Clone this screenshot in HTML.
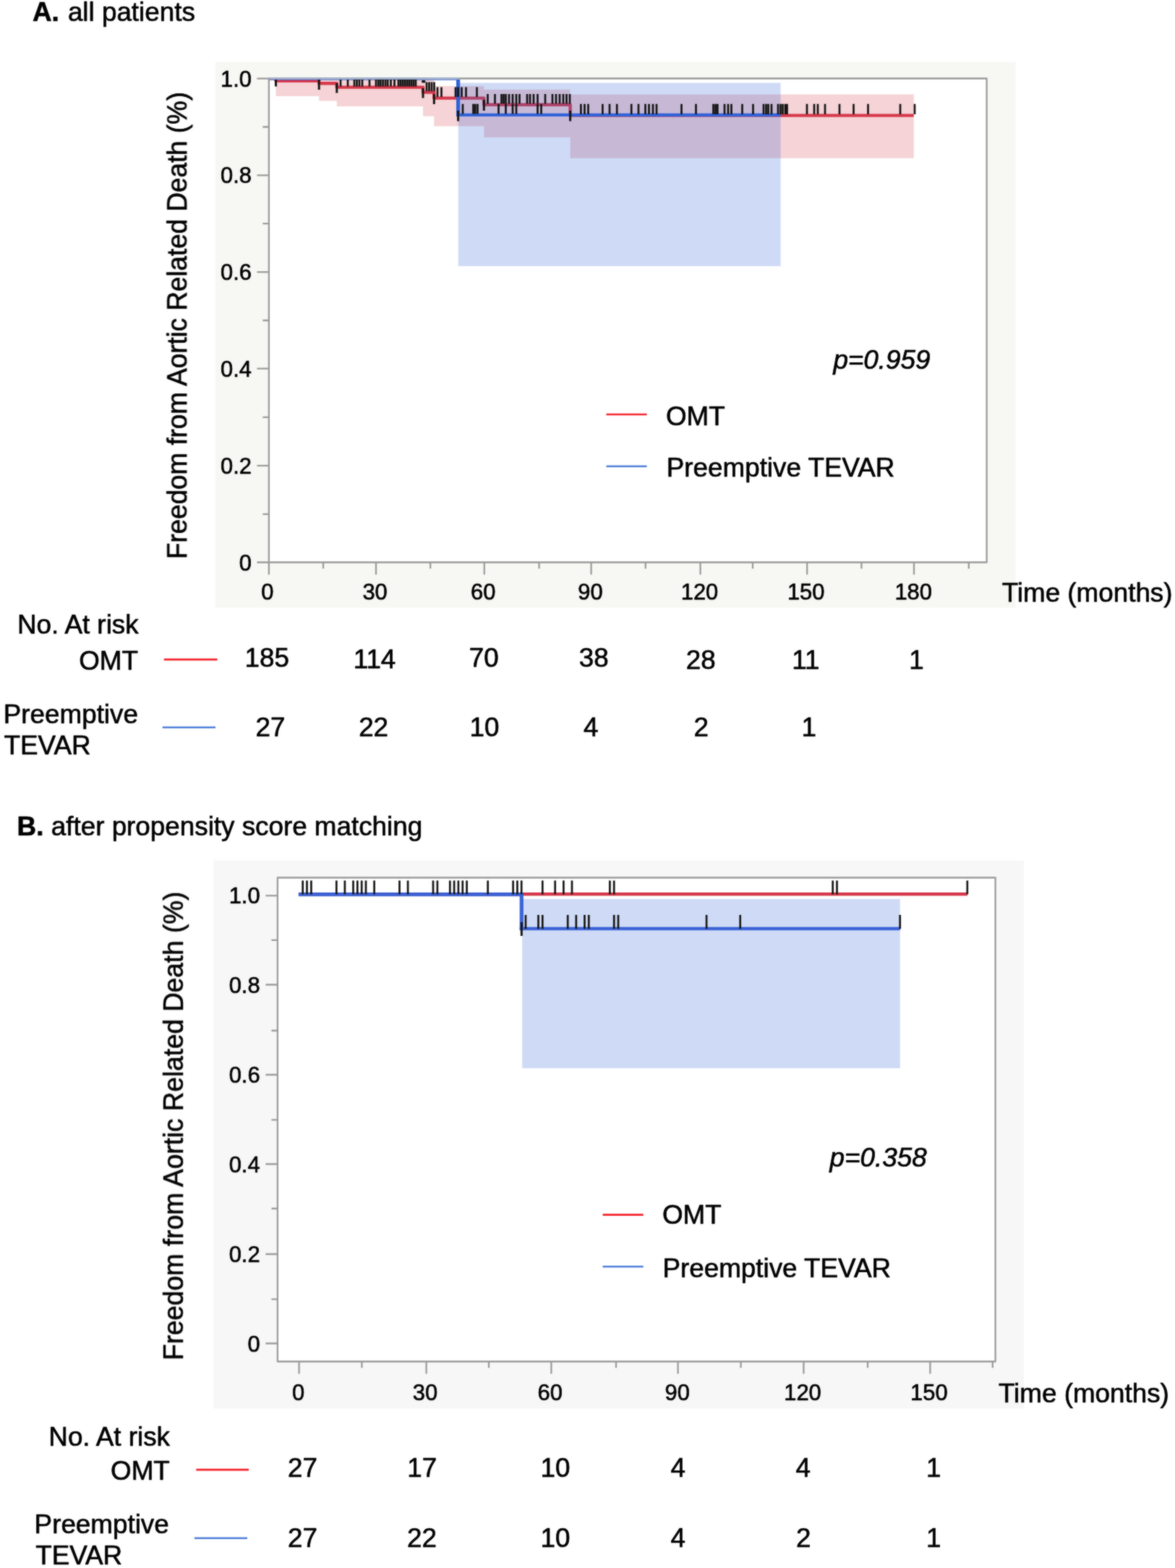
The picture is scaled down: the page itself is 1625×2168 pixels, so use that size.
<!DOCTYPE html>
<html lang="en">
<head>
<meta charset="utf-8">
<title>Freedom from Aortic Related Death</title>
<style>
html,body{margin:0;padding:0;background:#fff;}
body{width:1625px;height:2168px;overflow:hidden;}
svg{display:block;}
text{font-family:"Liberation Sans", sans-serif;}
</style>
</head>
<body>
<svg role="img" aria-label="Kaplan-Meier curves: freedom from aortic related death" width="1625" height="2168" viewBox="0 0 1625 2168" font-family='"Liberation Sans", sans-serif' fill="#000" stroke-linejoin="round">
<rect width="1625" height="2168" fill="#fff"/>
<filter id="soft" x="0" y="0" width="1625" height="2168" filterUnits="userSpaceOnUse" color-interpolation-filters="sRGB"><feGaussianBlur stdDeviation="0.8" result="b"/><feComposite in="SourceGraphic" in2="b" operator="arithmetic" k1="0" k2="0.45" k3="0.55" k4="0"/></filter>
<g filter="url(#soft)">
<g id="panelA">
<rect x="297.8" y="85.4" width="1106.7" height="755.0" fill="#f7f8f3"/>
<rect x="371.9" y="108.5" width="992.6999999999999" height="669.0" fill="#fff"/>
<clipPath id="clipA"><rect x="373" y="110" width="990.5" height="666.4"/></clipPath>
<g clip-path="url(#clipA)">
<path d="M381.5 108.5H441.2V133.0H381.5ZM441.2 108.5H465.8V139.4H441.2ZM465.8 108.5H585.0V147.0H465.8ZM585.0 108.5H600.3V160.8H585.0ZM600.3 119.0H669.3V174.4H600.3ZM669.3 123.8H788.6V189.9H669.3ZM788.6 130.6H1263.7V218.7H788.6Z" fill="#f5d3d6"/>
<path d="M371.9 108.6H381.5V111.8H441.2V115.2H465.8V120.6H585.0V127.6H600.3V135.6H669.3V144.8H788.6V159.6H1263.7" stroke="#d6374a" stroke-width="4.4" fill="none"/>
<rect x="633.8" y="114.6" width="445.79999999999995" height="253.4" fill="rgba(52,100,216,0.235)"/>
<path d="M371.9 108.6H633.6M631.2 158.8H1079.6" stroke="#2f62d9" stroke-width="4.3" fill="none"/>
<path d="M633.6 108.6V160.9" stroke="#2f62d9" stroke-width="5.2" fill="none"/>
<path d="M471 107.6V119.4M481 107.6V119.4M490 107.6V119.4M493.5 107.6V119.4M497 107.6V119.4M501 107.6V119.4M511 107.6V119.4M520 107.6V119.4M523.3 107.6V119.4M526.3 107.6V119.4M529.6 107.6V119.4M533 107.6V119.4M536.2 107.6V119.4M540.5 107.6V119.4M545.5 107.6V119.4M551 107.6V119.4M554 107.6V119.4M557 107.6V119.4M560 107.6V119.4M563 107.6V119.4M566 107.6V119.4M569 107.6V119.4M572 107.6V119.4M575 107.6V119.4" stroke="#141414" stroke-width="2.7" fill="none"/>
<path d="M590 113.5V126M593.5 113.5V126M597 113.5V126M600.5 113.5V126" stroke="#141414" stroke-width="2.7" fill="none"/>
<path d="M605 120.5V134M610.5 120.5V134M630 120.5V134M633.5 120.5V134M638.5 120.5V134M644.5 120.5V134M659.5 120.5V134" stroke="#141414" stroke-width="2.7" fill="none"/>
<path d="M674.5 130V143.5M684.5 130V143.5M693.5 130V143.5M696.5 130V143.5M699.5 130V143.5M704 130V143.5M709 130V143.5M714 130V143.5M718.5 130V143.5M729 130V143.5M733 130V143.5M738 130V143.5M743.5 130V143.5M754 130V143.5M764 130V143.5M769 130V143.5M774 130V143.5M779 130V143.5M783.5 130V143.5M788 130V143.5" stroke="#141414" stroke-width="2.7" fill="none"/>
<path d="M803.4 143.8V158M808.5 143.8V158M813.5 143.8V158M833.4 143.8V158M843 143.8V158M853.2 143.8V158M873.2 143.8V158M883 143.8V158M892.5 143.8V158M897.5 143.8V158M903 143.8V158M908 143.8V158M942.5 143.8V158M962.5 143.8V158M986.5 143.8V158M989.5 143.8V158M992.3 143.8V158M1002 143.8V158M1007 143.8V158M1011.5 143.8V158M1026.5 143.8V158M1041.5 143.8V158M1056 143.8V158M1059.5 143.8V158M1062.5 143.8V158M1067 143.8V158M1076 143.8V158M1079.5 143.8V158M1082.5 143.8V158M1086 143.8V158M1088.5 143.8V158M1116 143.8V158M1126 143.8V158M1131 143.8V158M1141 143.8V158M1161 143.8V158M1180.5 143.8V158M1200.5 143.8V158M1245 143.8V158M1265 143.8V158" stroke="#141414" stroke-width="2.7" fill="none"/>
<path d="M640 143.8V157.5M654.5 143.8V157.5M657.3 143.8V157.5M660.5 143.8V157.5M689.5 143.8V157.5M699.5 143.8V157.5M709 143.8V157.5M714 143.8V157.5M743.5 143.8V157.5M748.5 143.8V157.5" stroke="#141414" stroke-width="2.7" fill="none"/>
<path d="M381.5 109V119.5" stroke="#141414" stroke-width="3" fill="none"/>
<path d="M441.2 110V124" stroke="#141414" stroke-width="3" fill="none"/>
<path d="M465.8 115V128.5" stroke="#141414" stroke-width="3" fill="none"/>
<path d="M585 122V135.5" stroke="#141414" stroke-width="3" fill="none"/>
<path d="M600.3 130V144" stroke="#141414" stroke-width="3" fill="none"/>
<path d="M669.3 138V153" stroke="#141414" stroke-width="3" fill="none"/>
<path d="M633.6 153V167.5" stroke="#141414" stroke-width="3" fill="none"/>
<path d="M788.6 153V167.5" stroke="#141414" stroke-width="3" fill="none"/>
<rect x="583" y="111" width="5.5" height="3.6" rx="1.5" fill="#141414"/>
</g>
<rect x="371.9" y="108.5" width="992.6999999999999" height="669.0" fill="none" stroke="#9a9a9a" stroke-width="2.3"/>
<path d="M373 108.5H634.5" stroke="#9db0d6" stroke-width="2.2"/>
<path d="M355.4 108.6H371.9M355.4 242.4H371.9M355.4 376.1H371.9M355.4 509.7H371.9M355.4 643.9H371.9M355.4 777.5H371.9M363.4 175.5H371.9M363.4 309.2H371.9M363.4 443.0H371.9M363.4 576.9H371.9M363.4 710.9H371.9M371.9 777.5V794.5M520.0 777.5V794.5M669.8 777.5V794.5M817.6 777.5V794.5M968.6 777.5V794.5M1116.2 777.5V794.5M1264.0 777.5V794.5M447.0 777.5V786.3M595.2 777.5V786.3M745.6 777.5V786.3M892.8 777.5V786.3M1041.0 777.5V786.3M1191.4 777.5V786.3M1339.8 777.5V786.3" stroke="#9a9a9a" stroke-width="2.3" fill="none"/>
<text transform="translate(348.0 119.6) scale(1 1.04)" font-size="30.9" text-anchor="end" stroke="#000" stroke-width="0.7">1.0</text>
<text transform="translate(348.0 253.4) scale(1 1.04)" font-size="30.9" text-anchor="end" stroke="#000" stroke-width="0.7">0.8</text>
<text transform="translate(348.0 387.1) scale(1 1.04)" font-size="30.9" text-anchor="end" stroke="#000" stroke-width="0.7">0.6</text>
<text transform="translate(348.0 520.7) scale(1 1.04)" font-size="30.9" text-anchor="end" stroke="#000" stroke-width="0.7">0.4</text>
<text transform="translate(348.0 654.9) scale(1 1.04)" font-size="30.9" text-anchor="end" stroke="#000" stroke-width="0.7">0.2</text>
<text transform="translate(348.0 788.5) scale(1 1.04)" font-size="30.9" text-anchor="end" stroke="#000" stroke-width="0.7">0</text>
<text transform="translate(369.8 829.2) scale(1 1.04)" font-size="30.9" text-anchor="middle" stroke="#000" stroke-width="0.7">0</text>
<text transform="translate(518.6 829.2) scale(1 1.04)" font-size="30.9" text-anchor="middle" stroke="#000" stroke-width="0.7">30</text>
<text transform="translate(668.3 829.2) scale(1 1.04)" font-size="30.9" text-anchor="middle" stroke="#000" stroke-width="0.7">60</text>
<text transform="translate(816.5 829.2) scale(1 1.04)" font-size="30.9" text-anchor="middle" stroke="#000" stroke-width="0.7">90</text>
<text transform="translate(967.5 829.2) scale(1 1.04)" font-size="30.9" text-anchor="middle" stroke="#000" stroke-width="0.7">120</text>
<text transform="translate(1114.7 829.2) scale(1 1.04)" font-size="30.9" text-anchor="middle" stroke="#000" stroke-width="0.7">150</text>
<text transform="translate(1263.2 829.2) scale(1 1.04)" font-size="30.9" text-anchor="middle" stroke="#000" stroke-width="0.7">180</text>
</g>
<text transform="translate(45.0 29.2) scale(1 1.0)" font-size="36.8" font-weight="bold" stroke="#000" stroke-width="0.7">A.</text>
<text transform="translate(93.9 29.2) scale(1 1.0)" font-size="36.8" stroke="#000" stroke-width="0.7">all patients</text>
<text transform="translate(258.6 773) rotate(-90) scale(1 1.04)" font-size="36.8" textLength="646" lengthAdjust="spacing" stroke="#000" stroke-width="0.7">Freedom from Aortic Related Death (%)</text>
<text transform="translate(1385.7 832.0) scale(1 1.0)" font-size="36.8" stroke="#000" stroke-width="0.7">Time (months)</text>
<text transform="translate(1152.4 510.2) scale(1 1.0)" font-size="36.8" font-style="italic" stroke="#000" stroke-width="0.7">p=0.959</text>
<path d="M838.5 573H894.6" stroke="#f41c26" stroke-width="2.7"/>
<path d="M838.5 644.8H894.6" stroke="#4a7cd8" stroke-width="2.6"/>
<text transform="translate(921.0 587.6) scale(1 1.0)" font-size="36.8" stroke="#000" stroke-width="0.7">OMT</text>
<text transform="translate(921.8 658.8) scale(1 1.0)" font-size="36.8" stroke="#000" stroke-width="0.7">Preemptive TEVAR</text>
<text transform="translate(191.6 875.6) scale(1 1.0)" font-size="36.8" text-anchor="end" stroke="#000" stroke-width="0.7">No. At risk</text>
<text transform="translate(191.0 925.6) scale(1 1.0)" font-size="36.8" text-anchor="end" stroke="#000" stroke-width="0.7">OMT</text>
<text transform="translate(4.8 999.6) scale(1 1.0)" font-size="36.8" stroke="#000" stroke-width="0.7">Preemptive</text>
<text transform="translate(5.6 1042.8) scale(1 1.0)" font-size="36.8" stroke="#000" stroke-width="0.7">TEVAR</text>
<path d="M226.8 911.8H300.5" stroke="#f41c26" stroke-width="2.7"/>
<path d="M224.7 1005.8H298" stroke="#4a7cd8" stroke-width="2.6"/>
<text transform="translate(369.3 922.0) scale(1 1.0)" font-size="36.8" text-anchor="middle" stroke="#000" stroke-width="0.7">185</text>
<text transform="translate(518.0 924.4) scale(1 1.0)" font-size="36.8" text-anchor="middle" stroke="#000" stroke-width="0.7">114</text>
<text transform="translate(669.2 922.0) scale(1 1.0)" font-size="36.8" text-anchor="middle" stroke="#000" stroke-width="0.7">70</text>
<text transform="translate(821.2 922.0) scale(1 1.0)" font-size="36.8" text-anchor="middle" stroke="#000" stroke-width="0.7">38</text>
<text transform="translate(969.2 925.1) scale(1 1.0)" font-size="36.8" text-anchor="middle" stroke="#000" stroke-width="0.7">28</text>
<text transform="translate(1114.3 925.1) scale(1 1.0)" font-size="36.8" text-anchor="middle" stroke="#000" stroke-width="0.7">11</text>
<text transform="translate(1267.4 925.1) scale(1 1.0)" font-size="36.8" text-anchor="middle" stroke="#000" stroke-width="0.7">1</text>
<text transform="translate(374.0 1018.0) scale(1 1.0)" font-size="36.8" text-anchor="middle" stroke="#000" stroke-width="0.7">27</text>
<text transform="translate(516.6 1018.0) scale(1 1.0)" font-size="36.8" text-anchor="middle" stroke="#000" stroke-width="0.7">22</text>
<text transform="translate(670.0 1018.0) scale(1 1.0)" font-size="36.8" text-anchor="middle" stroke="#000" stroke-width="0.7">10</text>
<text transform="translate(817.2 1018.0) scale(1 1.0)" font-size="36.8" text-anchor="middle" stroke="#000" stroke-width="0.7">4</text>
<text transform="translate(969.7 1018.0) scale(1 1.0)" font-size="36.8" text-anchor="middle" stroke="#000" stroke-width="0.7">2</text>
<text transform="translate(1118.8 1018.0) scale(1 1.0)" font-size="36.8" text-anchor="middle" stroke="#000" stroke-width="0.7">1</text>
<g id="panelB">
<rect x="295.3" y="1189.7" width="1120.7" height="758.0" fill="#f7f7f7"/>
<rect x="383.9" y="1213.5" width="992.6999999999999" height="669.0" fill="#fff"/>
<rect x="722.2" y="1243.0" width="522.6" height="234.0" fill="rgba(52,100,216,0.235)"/>
<rect x="383.9" y="1213.5" width="992.6999999999999" height="669.0" fill="none" stroke="#9a9a9a" stroke-width="2.3"/>
<path d="M412.9 1236.3H1337.8" stroke="#d6374a" stroke-width="4.6" fill="none"/>
<path d="M412.9 1236.6H723.9" stroke="#3d60d2" stroke-width="5.4" fill="none"/>
<path d="M721.3 1236.2V1286.2" stroke="#3a62d6" stroke-width="5.2" fill="none"/>
<path d="M718.7 1284H1244.8" stroke="#3a62d6" stroke-width="4.4" fill="none"/>
<path d="M418.7 1217.6V1236.5M424.5 1217.6V1236.5M430.4 1217.6V1236.5M465.3 1217.6V1236.5M476.9 1217.6V1236.5M488.5 1217.6V1236.5M494.3 1217.6V1236.5M500.2 1217.6V1236.5M506.0 1217.6V1236.5M517.6 1217.6V1236.5M552.5 1217.6V1236.5M564.1 1217.6V1236.5M599.0 1217.6V1236.5M604.9 1217.6V1236.5M622.3 1217.6V1236.5M628.1 1217.6V1236.5M633.9 1217.6V1236.5M639.8 1217.6V1236.5M645.6 1217.6V1236.5M674.7 1217.6V1236.5M709.6 1217.6V1236.5M715.4 1217.6V1236.5M721.2 1217.6V1236.5M750.3 1217.6V1236.5M767.7 1217.6V1236.5M779.4 1217.6V1236.5M791.0 1217.6V1236.5M843.4 1217.6V1236.5M849.2 1217.6V1236.5M1151.7 1217.6V1236.5M1157.5 1217.6V1236.5M1337.8 1217.6V1236.5" stroke="#141414" stroke-width="2.7" fill="none"/>
<path d="M727.0 1265.0V1284.2M744.5 1265.0V1284.2M750.3 1265.0V1284.2M785.2 1265.0V1284.2M796.8 1265.0V1284.2M808.5 1265.0V1284.2M814.3 1265.0V1284.2M849.2 1265.0V1284.2M855.0 1265.0V1284.2M977.1 1265.0V1284.2M1023.7 1265.0V1284.2M1244.7 1265.0V1284.2" stroke="#141414" stroke-width="2.7" fill="none"/>
<path d="M721.3 1275V1294" stroke="#141414" stroke-width="3" fill="none"/>
<path d="M367.4 1238.3H383.9M367.4 1361.5H383.9M367.4 1486.0H383.9M367.4 1609.5H383.9M367.4 1734.0H383.9M367.4 1857.5H383.9M375.4 1299.8H383.9M375.4 1425.0H383.9M375.4 1548.3H383.9M375.4 1671.0H383.9M375.4 1796.3H383.9M413.6 1882.5V1899.5M589.6 1882.5V1899.5M762.4 1882.5V1899.5M937.6 1882.5V1899.5M1111.4 1882.5V1899.5M1286.4 1882.5V1899.5M500.4 1882.5V1891.3M676.0 1882.5V1891.3M852.0 1882.5V1891.3M1024.6 1882.5V1891.3M1200.0 1882.5V1891.3M1372.8 1882.5V1891.3" stroke="#9a9a9a" stroke-width="2.3" fill="none"/>
<text transform="translate(359.6 1249.3) scale(1 1.04)" font-size="30.9" text-anchor="end" stroke="#000" stroke-width="0.7">1.0</text>
<text transform="translate(359.6 1372.5) scale(1 1.04)" font-size="30.9" text-anchor="end" stroke="#000" stroke-width="0.7">0.8</text>
<text transform="translate(359.6 1497.0) scale(1 1.04)" font-size="30.9" text-anchor="end" stroke="#000" stroke-width="0.7">0.6</text>
<text transform="translate(359.6 1620.5) scale(1 1.04)" font-size="30.9" text-anchor="end" stroke="#000" stroke-width="0.7">0.4</text>
<text transform="translate(359.6 1745.0) scale(1 1.04)" font-size="30.9" text-anchor="end" stroke="#000" stroke-width="0.7">0.2</text>
<text transform="translate(359.6 1868.5) scale(1 1.04)" font-size="30.9" text-anchor="end" stroke="#000" stroke-width="0.7">0</text>
<text transform="translate(412.5 1936.0) scale(1 1.04)" font-size="30.9" text-anchor="middle" stroke="#000" stroke-width="0.7">0</text>
<text transform="translate(588.0 1936.0) scale(1 1.04)" font-size="30.9" text-anchor="middle" stroke="#000" stroke-width="0.7">30</text>
<text transform="translate(760.8 1936.0) scale(1 1.04)" font-size="30.9" text-anchor="middle" stroke="#000" stroke-width="0.7">60</text>
<text transform="translate(936.8 1936.0) scale(1 1.04)" font-size="30.9" text-anchor="middle" stroke="#000" stroke-width="0.7">90</text>
<text transform="translate(1110.0 1936.0) scale(1 1.04)" font-size="30.9" text-anchor="middle" stroke="#000" stroke-width="0.7">120</text>
<text transform="translate(1284.8 1936.0) scale(1 1.04)" font-size="30.9" text-anchor="middle" stroke="#000" stroke-width="0.7">150</text>
</g>
<text transform="translate(23.6 1154.8) scale(1 1.0)" font-size="36.8" font-weight="bold" stroke="#000" stroke-width="0.7">B.</text>
<text transform="translate(70.8 1154.8) scale(1 1.0)" font-size="36.8" stroke="#000" stroke-width="0.7">after propensity score matching</text>
<text transform="translate(253.4 1880.8) rotate(-90) scale(1 1.04)" font-size="36.8" textLength="648" lengthAdjust="spacing" stroke="#000" stroke-width="0.7">Freedom from Aortic Related Death (%)</text>
<text transform="translate(1381.0 1939.0) scale(1 1.0)" font-size="36.8" stroke="#000" stroke-width="0.7">Time (months)</text>
<text transform="translate(1147.6 1613.4) scale(1 1.0)" font-size="36.8" font-style="italic" stroke="#000" stroke-width="0.7">p=0.358</text>
<path d="M833.6 1679.6H889.7" stroke="#f41c26" stroke-width="2.7"/>
<path d="M833.6 1751.2H889.7" stroke="#4a7cd8" stroke-width="2.6"/>
<text transform="translate(916.0 1692.0) scale(1 1.0)" font-size="36.8" stroke="#000" stroke-width="0.7">OMT</text>
<text transform="translate(916.4 1766.0) scale(1 1.0)" font-size="36.8" stroke="#000" stroke-width="0.7">Preemptive TEVAR</text>
<text transform="translate(235.0 1999.0) scale(1 1.0)" font-size="36.8" text-anchor="end" stroke="#000" stroke-width="0.7">No. At risk</text>
<text transform="translate(234.8 2046.4) scale(1 1.0)" font-size="36.8" text-anchor="end" stroke="#000" stroke-width="0.7">OMT</text>
<text transform="translate(47.6 2120.0) scale(1 1.0)" font-size="36.8" stroke="#000" stroke-width="0.7">Preemptive</text>
<text transform="translate(49.2 2163.4) scale(1 1.0)" font-size="36.8" stroke="#000" stroke-width="0.7">TEVAR</text>
<path d="M271.3 2032.2H344" stroke="#f41c26" stroke-width="2.7"/>
<path d="M268.9 2126.8H342" stroke="#4a7cd8" stroke-width="2.6"/>
<text transform="translate(418.4 2041.6) scale(1 1.0)" font-size="36.8" text-anchor="middle" stroke="#000" stroke-width="0.7">27</text>
<text transform="translate(583.7 2041.6) scale(1 1.0)" font-size="36.8" text-anchor="middle" stroke="#000" stroke-width="0.7">17</text>
<text transform="translate(768.0 2041.6) scale(1 1.0)" font-size="36.8" text-anchor="middle" stroke="#000" stroke-width="0.7">10</text>
<text transform="translate(937.8 2041.6) scale(1 1.0)" font-size="36.8" text-anchor="middle" stroke="#000" stroke-width="0.7">4</text>
<text transform="translate(1110.8 2041.6) scale(1 1.0)" font-size="36.8" text-anchor="middle" stroke="#000" stroke-width="0.7">4</text>
<text transform="translate(1291.2 2041.6) scale(1 1.0)" font-size="36.8" text-anchor="middle" stroke="#000" stroke-width="0.7">1</text>
<text transform="translate(418.4 2139.0) scale(1 1.0)" font-size="36.8" text-anchor="middle" stroke="#000" stroke-width="0.7">27</text>
<text transform="translate(583.5 2139.0) scale(1 1.0)" font-size="36.8" text-anchor="middle" stroke="#000" stroke-width="0.7">22</text>
<text transform="translate(768.0 2139.0) scale(1 1.0)" font-size="36.8" text-anchor="middle" stroke="#000" stroke-width="0.7">10</text>
<text transform="translate(937.8 2139.0) scale(1 1.0)" font-size="36.8" text-anchor="middle" stroke="#000" stroke-width="0.7">4</text>
<text transform="translate(1111.2 2139.0) scale(1 1.0)" font-size="36.8" text-anchor="middle" stroke="#000" stroke-width="0.7">2</text>
<text transform="translate(1291.2 2139.0) scale(1 1.0)" font-size="36.8" text-anchor="middle" stroke="#000" stroke-width="0.7">1</text>
</g>
</svg>
</body>
</html>
